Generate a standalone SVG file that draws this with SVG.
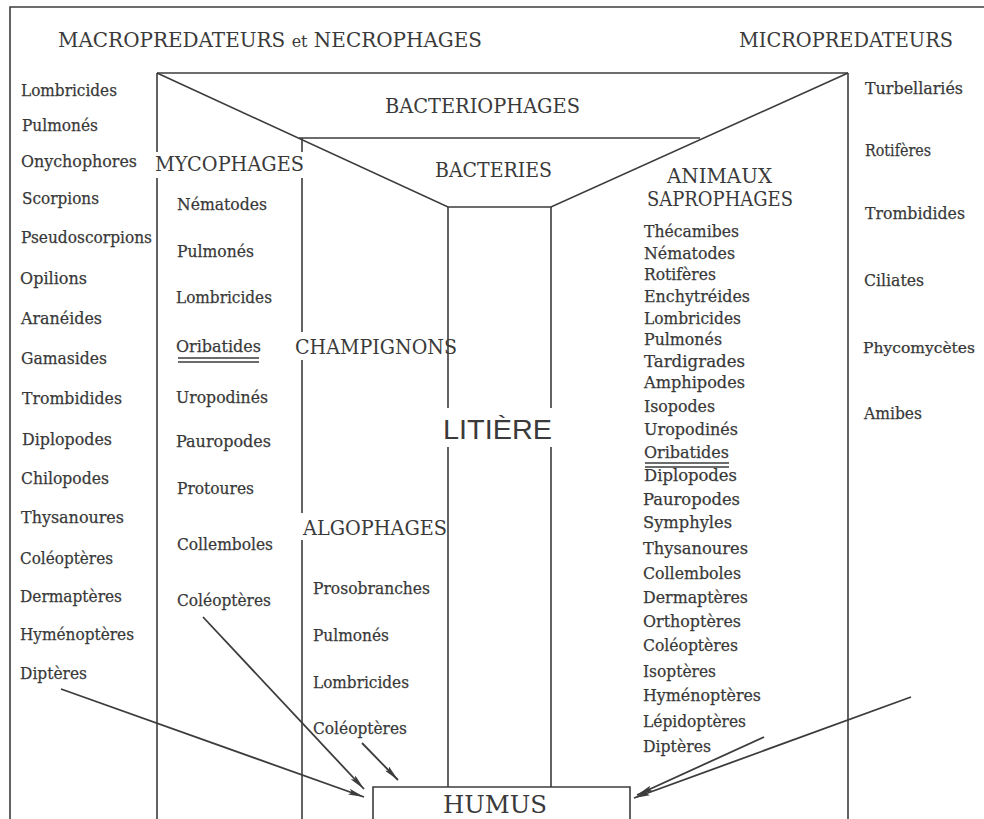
<svg xmlns="http://www.w3.org/2000/svg" width="984" height="819" viewBox="0 0 984 819">
<defs>
<style>
.ln{stroke:#3c3c3c;stroke-width:1.6;fill:none}
.ar{stroke:#3c3c3c;stroke-width:1.8;fill:none}
.t{font-family:"DejaVu Serif","Liberation Serif",serif;font-size:17.5px;fill:#383838;stroke:#383838;stroke-width:0.25}
.h{font-family:"DejaVu Serif","Liberation Serif",serif;font-size:20px;fill:#3a3a3a}
.big{font-family:"Liberation Sans","DejaVu Sans",sans-serif;font-size:28px;fill:#3a3a3a}
.hum{font-family:"DejaVu Serif","Liberation Serif",serif;font-size:24px;fill:#3a3a3a}
</style>
<marker id="ah" viewBox="0 0 16 6" refX="16" refY="3" markerWidth="16" markerHeight="6" markerUnits="userSpaceOnUse" orient="auto">
<path d="M0,0 L16,3 L0,6 L3,3 z" fill="#3c3c3c"/>
</marker>
</defs>
<rect width="984" height="819" fill="#ffffff"/>

<g id="frame">
<path class="ln" d="M984,7 L10,7 L10,819"/>
<path class="ln" d="M157,73 L848,73"/>
<path class="ln" d="M157,73 L157,152 M157,178 L157,819"/>
<path class="ln" d="M848,73 L848,819"/>
<path class="ln" d="M157,73 L448,207 L551,207 L848,73"/>
<path class="ln" d="M299,138 L700,138"/>
<path class="ln" d="M302,138 L302,152 M302,178 L302,332 M302,360 L302,513 M302,540 L302,819"/>
<path class="ln" d="M448,207 L448,408 M448,447 L448,787"/>
<path class="ln" d="M551,207 L551,408 M551,447 L551,787"/>
<path class="ln" d="M373,819 L373,787 L630,787 L630,819"/>
</g>

<g id="headers">
<g id="macro"><text class="h" x="58" y="47" textLength="424" lengthAdjust="spacingAndGlyphs">MACROPREDATEURS <tspan style="font-size:16px">et</tspan> NECROPHAGES</text></g>
<g id="micro"><text class="h" x="739" y="47" textLength="214" lengthAdjust="spacingAndGlyphs">MICROPREDATEURS</text></g>
<g id="bacteriophages"><text class="h" x="385" y="113" textLength="195" lengthAdjust="spacingAndGlyphs">BACTERIOPHAGES</text></g>
<g id="bacteries"><text class="h" x="435" y="177" textLength="117" lengthAdjust="spacingAndGlyphs">BACTERIES</text></g>
<g id="mycophages"><text class="h" x="155" y="171" textLength="149" lengthAdjust="spacingAndGlyphs">MYCOPHAGES</text></g>
<g id="animaux"><text class="h" x="667" y="183" textLength="105" lengthAdjust="spacingAndGlyphs">ANIMAUX</text>
<text class="h" x="647" y="206" textLength="146" lengthAdjust="spacingAndGlyphs">SAPROPHAGES</text></g>
<g id="champignons"><text class="h" x="295" y="354" textLength="162" lengthAdjust="spacingAndGlyphs">CHAMPIGNONS</text></g>
<g id="algophages"><text class="h" x="303" y="535" textLength="144" lengthAdjust="spacingAndGlyphs">ALGOPHAGES</text></g>
<g id="litiere"><text class="big" x="443" y="439" textLength="109" lengthAdjust="spacingAndGlyphs">LITIÈRE</text></g>
<g id="humus"><text class="hum" x="443" y="813" textLength="104" lengthAdjust="spacingAndGlyphs">HUMUS</text></g>
</g>

<g id="list-macro">
<text class="t" x="21" y="96" textLength="96" lengthAdjust="spacingAndGlyphs">Lombricides</text>
<text class="t" x="22" y="131" textLength="76" lengthAdjust="spacingAndGlyphs">Pulmonés</text>
<text class="t" x="21" y="167" textLength="116" lengthAdjust="spacingAndGlyphs">Onychophores</text>
<text class="t" x="22" y="204" textLength="77" lengthAdjust="spacingAndGlyphs">Scorpions</text>
<text class="t" x="21" y="243" textLength="131" lengthAdjust="spacingAndGlyphs">Pseudoscorpions</text>
<text class="t" x="20" y="284" textLength="67" lengthAdjust="spacingAndGlyphs">Opilions</text>
<text class="t" x="21" y="324" textLength="81" lengthAdjust="spacingAndGlyphs">Aranéides</text>
<text class="t" x="21" y="364" textLength="86" lengthAdjust="spacingAndGlyphs">Gamasides</text>
<text class="t" x="22" y="404" textLength="100" lengthAdjust="spacingAndGlyphs">Trombidides</text>
<text class="t" x="22" y="445" textLength="90" lengthAdjust="spacingAndGlyphs">Diplopodes</text>
<text class="t" x="21" y="484" textLength="88" lengthAdjust="spacingAndGlyphs">Chilopodes</text>
<text class="t" x="21" y="523" textLength="103" lengthAdjust="spacingAndGlyphs">Thysanoures</text>
<text class="t" x="20" y="564" textLength="93" lengthAdjust="spacingAndGlyphs">Coléoptères</text>
<text class="t" x="20" y="602" textLength="102" lengthAdjust="spacingAndGlyphs">Dermaptères</text>
<text class="t" x="20" y="640" textLength="114" lengthAdjust="spacingAndGlyphs">Hyménoptères</text>
<text class="t" x="20" y="679" textLength="67" lengthAdjust="spacingAndGlyphs">Diptères</text>
</g>

<g id="list-myco">
<text class="t" x="177" y="210" textLength="90" lengthAdjust="spacingAndGlyphs">Nématodes</text>
<text class="t" x="177" y="257" textLength="77" lengthAdjust="spacingAndGlyphs">Pulmonés</text>
<text class="t" x="176" y="303" textLength="96" lengthAdjust="spacingAndGlyphs">Lombricides</text>
<text class="t" x="176" y="352" textLength="85" lengthAdjust="spacingAndGlyphs">Oribatides</text>
<path class="ln" d="M178,358 L259,358 M178,362 L259,362" stroke-width="1.2"/>
<text class="t" x="176" y="403" textLength="92" lengthAdjust="spacingAndGlyphs">Uropodinés</text>
<text class="t" x="176" y="447" textLength="95" lengthAdjust="spacingAndGlyphs">Pauropodes</text>
<text class="t" x="177" y="494" textLength="77" lengthAdjust="spacingAndGlyphs">Protoures</text>
<text class="t" x="177" y="550" textLength="96" lengthAdjust="spacingAndGlyphs">Collemboles</text>
<text class="t" x="177" y="606" textLength="94" lengthAdjust="spacingAndGlyphs">Coléoptères</text>
</g>

<g id="list-algo">
<text class="t" x="313" y="594" textLength="117" lengthAdjust="spacingAndGlyphs">Prosobranches</text>
<text class="t" x="313" y="641" textLength="76" lengthAdjust="spacingAndGlyphs">Pulmonés</text>
<text class="t" x="313" y="688" textLength="96" lengthAdjust="spacingAndGlyphs">Lombricides</text>
<text class="t" x="313" y="734" textLength="94" lengthAdjust="spacingAndGlyphs">Coléoptères</text>
</g>

<g id="list-sapro">
<text class="t" x="644" y="237" textLength="95" lengthAdjust="spacingAndGlyphs">Thécamibes</text>
<text class="t" x="644" y="259" textLength="91" lengthAdjust="spacingAndGlyphs">Nématodes</text>
<text class="t" x="644" y="280" textLength="72" lengthAdjust="spacingAndGlyphs">Rotifères</text>
<text class="t" x="644" y="302" textLength="106" lengthAdjust="spacingAndGlyphs">Enchytréides</text>
<text class="t" x="644" y="324" textLength="97" lengthAdjust="spacingAndGlyphs">Lombricides</text>
<text class="t" x="644" y="345" textLength="78" lengthAdjust="spacingAndGlyphs">Pulmonés</text>
<text class="t" x="644" y="367" textLength="101" lengthAdjust="spacingAndGlyphs">Tardigrades</text>
<text class="t" x="644" y="388" textLength="101" lengthAdjust="spacingAndGlyphs">Amphipodes</text>
<text class="t" x="644" y="412" textLength="71" lengthAdjust="spacingAndGlyphs">Isopodes</text>
<text class="t" x="644" y="435" textLength="94" lengthAdjust="spacingAndGlyphs">Uropodinés</text>
<text class="t" x="644" y="458" textLength="85" lengthAdjust="spacingAndGlyphs">Oribatides</text>
<path class="ln" d="M645,463 L729,463 M645,467 L729,467" stroke-width="1.2"/>
<text class="t" x="644" y="481" textLength="93" lengthAdjust="spacingAndGlyphs">Diplopodes</text>
<text class="t" x="643" y="505" textLength="97" lengthAdjust="spacingAndGlyphs">Pauropodes</text>
<text class="t" x="643" y="528" textLength="89" lengthAdjust="spacingAndGlyphs">Symphyles</text>
<text class="t" x="643" y="554" textLength="105" lengthAdjust="spacingAndGlyphs">Thysanoures</text>
<text class="t" x="643" y="579" textLength="98" lengthAdjust="spacingAndGlyphs">Collemboles</text>
<text class="t" x="643" y="603" textLength="105" lengthAdjust="spacingAndGlyphs">Dermaptères</text>
<text class="t" x="643" y="627" textLength="98" lengthAdjust="spacingAndGlyphs">Orthoptères</text>
<text class="t" x="643" y="651" textLength="95" lengthAdjust="spacingAndGlyphs">Coléoptères</text>
<text class="t" x="643" y="677" textLength="73" lengthAdjust="spacingAndGlyphs">Isoptères</text>
<text class="t" x="643" y="701" textLength="118" lengthAdjust="spacingAndGlyphs">Hyménoptères</text>
<text class="t" x="643" y="727" textLength="103" lengthAdjust="spacingAndGlyphs">Lépidoptères</text>
<text class="t" x="643" y="752" textLength="68" lengthAdjust="spacingAndGlyphs">Diptères</text>
</g>

<g id="list-micro">
<text class="t" x="865" y="94" textLength="98" lengthAdjust="spacingAndGlyphs">Turbellariés</text>
<text class="t" x="865" y="156" textLength="66" lengthAdjust="spacingAndGlyphs">Rotifères</text>
<text class="t" x="865" y="219" textLength="100" lengthAdjust="spacingAndGlyphs">Trombidides</text>
<text class="t" x="864" y="286" textLength="60" lengthAdjust="spacingAndGlyphs">Ciliates</text>
<text class="t" x="863" y="353" style="font-size:14.5px" textLength="112" lengthAdjust="spacingAndGlyphs">Phycomycètes</text>
<text class="t" x="864" y="419" textLength="58" lengthAdjust="spacingAndGlyphs">Amibes</text>
</g>

<g id="connectors">
<path class="ar" d="M61,689 L364,797" marker-end="url(#ah)"/>
<path class="ar" d="M203,617 L364,789" marker-end="url(#ah)"/>
<path class="ar" d="M362,743 L398,780" marker-end="url(#ah)"/>
<path class="ar" d="M911,697 L634,798" marker-end="url(#ah)"/>
<path class="ar" d="M764,737 L637,795" marker-end="url(#ah)"/>
</g>
</svg>
